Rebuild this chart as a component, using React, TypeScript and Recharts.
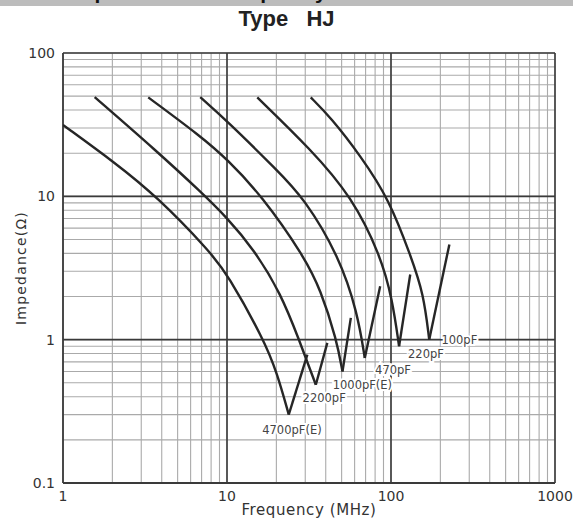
import { ComposedChart, Line, Scatter, XAxis, YAxis, CartesianGrid, ReferenceLine } from "recharts";

// log grid positions (MHz / ohm)
const xTicks = [1, 2, 3, 4, 5, 6, 7, 8, 9, 10, 20, 30, 40, 50, 60, 70, 80, 90, 100, 200, 300, 400, 500, 600, 700, 800, 900, 1000];
const yTicks = [0.1, 0.2, 0.3, 0.4, 0.5, 0.6, 0.7, 0.8, 0.9, 1, 2, 3, 4, 5, 6, 7, 8, 9, 10, 20, 30, 40, 50, 60, 70, 80, 90, 100];
const xDecades = [1, 10, 100, 1000];
const yDecades = [0.1, 1, 10, 100];
const xMajor = [10, 100];
const yMajor = [1, 10];

// falling (capacitive) branch, then the rise after resonance
const c4700Down = [
  { f: 1, z: 31.5 }, { f: 2.07, z: 17.2 }, { f: 3.73, z: 10 }, { f: 7.9, z: 4.1 },
  { f: 10, z: 2.89 }, { f: 16.8, z: 1.0 }, { f: 20.2, z: 0.585 }, { f: 23.8, z: 0.3 },
];
const c4700Up = [{ f: 23.8, z: 0.3 }, { f: 30.9, z: 0.786 }];

const c2200Down = [
  { f: 1.56, z: 49.2 }, { f: 3.74, z: 20.6 }, { f: 6.89, z: 10.8 }, { f: 10, z: 7.1 },
  { f: 14.6, z: 4.26 }, { f: 21.3, z: 2.1 }, { f: 27.5, z: 1.0 }, { f: 34.8, z: 0.485 },
];
const c2200Up = [{ f: 34.8, z: 0.485 }, { f: 40.9, z: 0.95 }];

const c1000Down = [
  { f: 3.31, z: 49 }, { f: 6.89, z: 26.3 }, { f: 10, z: 18.2 }, { f: 16.4, z: 10 },
  { f: 29.4, z: 3.83 }, { f: 37.2, z: 2.24 }, { f: 46.6, z: 1.0 }, { f: 50.6, z: 0.6 },
];
const c1000Up = [{ f: 50.6, z: 0.6 }, { f: 56.9, z: 1.42 }];

const c470Down = [
  { f: 6.87, z: 49.2 }, { f: 10, z: 33.6 }, { f: 20.2, z: 15.2 }, { f: 29.4, z: 9.77 },
  { f: 48.2, z: 3.83 }, { f: 62.5, z: 1.54 }, { f: 69.2, z: 0.745 },
];
const c470Up = [{ f: 69.2, z: 0.745 }, { f: 85.9, z: 2.36 }];

const c220Down = [
  { f: 15.3, z: 49 }, { f: 32.4, z: 21.3 }, { f: 57.5, z: 10 }, { f: 86.7, z: 3.83 },
  { f: 102, z: 1.9 }, { f: 112, z: 0.9 },
];
const c220Up = [{ f: 112, z: 0.9 }, { f: 131, z: 2.85 }];

const c100Down = [
  { f: 32.4, z: 49 }, { f: 42.9, z: 35.5 }, { f: 65.4, z: 19.1 }, { f: 97.5, z: 9.5 },
  { f: 132, z: 3.83 }, { f: 158, z: 2.1 }, { f: 171, z: 1.0 },
];
const c100Up = [{ f: 171, z: 1.0 }, { f: 227, z: 4.62 }];

const capLabels = [
  { f: 203, z: 1.0, name: "100pF" },
  { f: 127, z: 0.8, name: "220pF" },
  { f: 80, z: 0.617, name: "470pF" },
  { f: 44.1, z: 0.48, name: "1000pF(E)" },
  { f: 28.9, z: 0.39, name: "2200pF" },
  { f: 16.4, z: 0.235, name: "4700pF(E)" },
];

const falling = [c4700Down, c2200Down, c1000Down, c470Down, c220Down, c100Down];
const rising = [c4700Up, c2200Up, c1000Up, c470Up, c220Up, c100Up];

const FONT = "'DejaVu Sans', sans-serif";

function XTick(props: any) {
  const { x, y, payload } = props;
  if (!xDecades.includes(payload.value)) return <g />;
  return (
    <text x={x} y={y} dy="0.71em" textAnchor="middle" fontSize={14} fontFamily={FONT} fill="#333">
      {payload.value}
    </text>
  );
}

function YTick(props: any) {
  const { x, y, payload } = props;
  if (!yDecades.includes(payload.value)) return <g />;
  return (
    <text x={x} y={y} dy="0.36em" textAnchor="end" fontSize={14} fontFamily={FONT} fill="#333">
      {payload.value}
    </text>
  );
}

function CapLabel(props: any) {
  const { cx, cy, payload } = props;
  return (
    <text x={cx} y={cy} dy="0.36em" fontSize={11.5} fontFamily={FONT} fill="#444"
      stroke="#fff" strokeWidth={4} paintOrder="stroke">
      {payload.name}
    </text>
  );
}

export default function App() {
  return (
    <div style={{ position: "absolute", left: 0, top: 0, width: 573, height: 521, background: "#fff" }}>
      <div style={{ position: "absolute", left: 0, top: 0, width: 573, height: 6, background: "#bcbcbc", overflow: "hidden" }}>
        <div style={{ position: "absolute", left: 70, top: -20, font: "bold 21px 'Liberation Sans', Arial", color: "#111", whiteSpace: "pre" }}>
          Impedance vs. Frequency Characteristics
        </div>
      </div>
      <div style={{ position: "absolute", left: 0, top: 8, width: 573, textAlign: "center", font: "bold 22px/22px 'Liberation Sans', Arial", color: "#222", whiteSpace: "pre" }}>
        {"Type   HJ"}
      </div>
      <ComposedChart width={573} height={521} margin={{ top: 53, right: 18, bottom: 0, left: 0 }}>
        <CartesianGrid stroke="#aaaaaa" strokeWidth={1.1} />
        <XAxis dataKey="f" type="number" scale="log" domain={[1, 1000]} ticks={xTicks} allowDataOverflow
          axisLine={false} tickLine={false} tickSize={6} tickMargin={2} height={38} tick={<XTick />} interval={0} />
        <YAxis dataKey="z" type="number" scale="log" domain={[0.1, 100]} ticks={yTicks} allowDataOverflow
          axisLine={false} tickLine={false} tickSize={6} tickMargin={2} width={63} tick={<YTick />} interval={0} />
        {xMajor.map((v) => (
          <ReferenceLine key={"x" + v} x={v} stroke="#3a3a3a" strokeWidth={1.6} />
        ))}
        {yMajor.map((v) => (
          <ReferenceLine key={"y" + v} y={v} stroke="#3a3a3a" strokeWidth={1.6} />
        ))}
        <ReferenceLine x={1} stroke="#3a3a3a" strokeWidth={1.8} />
        <ReferenceLine x={1000} stroke="#3a3a3a" strokeWidth={1.6} />
        <ReferenceLine y={0.1} stroke="#3a3a3a" strokeWidth={1.8} />
        <ReferenceLine y={100} stroke="#3a3a3a" strokeWidth={1.6} />
        {falling.map((d, i) => (
          <Line key={"d" + i} data={d} dataKey="z" type="basis" stroke="#262626" strokeWidth={2.4}
            dot={false} isAnimationActive={false} legendType="none" />
        ))}
        {rising.map((d, i) => (
          <Line key={"u" + i} data={d} dataKey="z" type="linear" stroke="#262626" strokeWidth={2.4}
            dot={false} isAnimationActive={false} legendType="none" />
        ))}
        <Scatter data={capLabels} dataKey="z" shape={<CapLabel />} isAnimationActive={false} legendType="none" />
      </ComposedChart>
      <div style={{ position: "absolute", left: 63, width: 492, top: 503, textAlign: "center", font: `15px/15px ${FONT}`, color: "#333", letterSpacing: 0.6 }}>
        Frequency (MHz)
      </div>
      <div style={{ position: "absolute", left: 21 - 100, top: 268 - 10, width: 200, height: 20, textAlign: "center", font: `14px/20px ${FONT}`, color: "#333", letterSpacing: 1.2, transform: "rotate(-90deg)" }}>
        Impedance(Ω)
      </div>
    </div>
  );
}
